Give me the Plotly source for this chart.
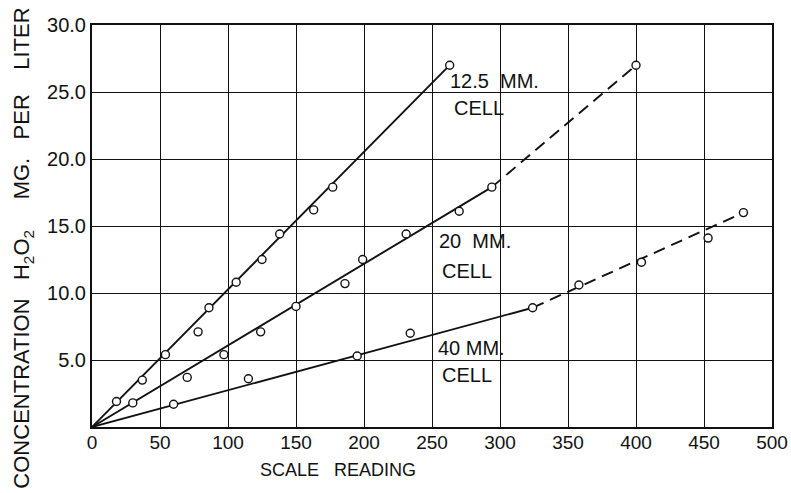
import plotly.graph_objects as go

# ---- data ----
cell12_x = [18, 37, 54, 78, 86, 106, 125, 138, 163, 177, 263]
cell12_y = [1.9, 3.5, 5.4, 7.1, 8.9, 10.8, 12.5, 14.4, 16.2, 17.9, 27.0]
cell12_line_x = [0, 263]
cell12_line_y = [0, 27.0]

cell20_x = [30, 70, 97, 124, 150, 186, 199, 231, 270, 294, 400]
cell20_y = [1.8, 3.7, 5.4, 7.1, 9.0, 10.7, 12.5, 14.4, 16.1, 17.9, 27.0]
cell20_line_x = [0, 294]
cell20_line_y = [0, 17.9]
cell20_dash_x = [294, 400]
cell20_dash_y = [17.9, 27.0]

cell40_x = [60, 115, 195, 234, 324, 358, 404, 453, 479]
cell40_y = [1.7, 3.6, 5.3, 7.0, 8.9, 10.6, 12.3, 14.1, 16.0]
cell40_line_x = [0, 324]
cell40_line_y = [0, 8.9]
cell40_dash_x = [324, 479]
cell40_dash_y = [8.9, 16.0]

x_ticks = [0, 50, 100, 150, 200, 250, 300, 350, 400, 450, 500]
y_ticks = [5, 10, 15, 20, 25, 30]
y_tick_text = ["5.0", "10.0", "15.0", "20.0", "25.0", "30.0"]

REG = "Liberation Sans, Arial, sans-serif"
INK = "#111111"

fig = go.Figure()

def line(x, y, dash="solid"):
    fig.add_trace(go.Scatter(x=x, y=y, mode="lines",
                             line=dict(color=INK, width=1.9, dash=dash),
                             hoverinfo="skip", showlegend=False, cliponaxis=False))

def pts(x, y):
    fig.add_trace(go.Scatter(x=x, y=y, mode="markers",
                             marker=dict(symbol="circle", size=8, color="white",
                                         line=dict(color=INK, width=1.4)),
                             showlegend=False, cliponaxis=False))

line(cell12_line_x, cell12_line_y)
line(cell20_line_x, cell20_line_y)
line(cell20_dash_x, cell20_dash_y, dash="12px,7px")
line(cell40_line_x, cell40_line_y)
line(cell40_dash_x, cell40_dash_y, dash="12px,7px")
pts(cell12_x, cell12_y)
pts(cell20_x, cell20_y)
pts(cell40_x, cell40_y)

labels = [
    ("12.5\u00a0\u00a0MM.", 262, 25.8),
    ("CELL", 264.5, 23.8),
    ("20\u00a0\u00a0MM.", 254, 13.9),
    ("CELL", 256, 11.66),
    ("40\u00a0MM.", 253, 5.86),
    ("CELL", 256, 3.85),
]
for txt, ax, ay in labels:
    fig.add_annotation(x=ax, y=ay, xref="x", yref="y", text=txt, showarrow=False,
                       xanchor="left", yanchor="middle",
                       font=dict(family=REG, size=20, color=INK))

fig.add_annotation(x=-0.1007, y=0.445, xref="paper", yref="paper",
                   text="CONCENTRATION\u00a0\u00a0\u00a0H<sub>2</sub>O<sub>2</sub>\u00a0\u00a0\u00a0\u00a0\u00a0MG.\u00a0\u00a0\u00a0PER\u00a0\u00a0\u00a0\u00a0LITER",
                   textangle=-90, showarrow=False, xanchor="center", yanchor="middle",
                   font=dict(family=REG, size=22, color=INK))
fig.add_annotation(x=0.362, y=-0.107, xref="paper", yref="paper",
                   text="SCALE\u00a0\u00a0\u00a0READING", showarrow=False,
                   xanchor="center", yanchor="middle",
                   font=dict(family=REG, size=18, color=INK))

fig.update_xaxes(range=[0, 500], tickvals=x_ticks, ticktext=[str(v) for v in x_ticks],
                 showgrid=True, gridcolor=INK, gridwidth=1,
                 showline=True, linecolor=INK, linewidth=2, mirror=True,
                 ticks="", zeroline=False, ticklabelstandoff=-3,
                 tickfont=dict(family=REG, size=19, color=INK))
fig.update_yaxes(range=[0, 30], tickvals=y_ticks, ticktext=y_tick_text,
                 showgrid=True, gridcolor=INK, gridwidth=1,
                 showline=True, linecolor=INK, linewidth=2, mirror=True,
                 ticks="", zeroline=False,
                 tickfont=dict(family=REG, size=20, color=INK))

fig.update_layout(width=791, height=493,
                  margin=dict(l=92, r=19, t=25, b=66, autoexpand=False),
                  paper_bgcolor="white", plot_bgcolor="white",
                  showlegend=False)

fig.write_html("out.html", config={"displayModeBar": False},
               post_script="document.body.style.margin='0px';document.body.style.overflow='hidden';")
